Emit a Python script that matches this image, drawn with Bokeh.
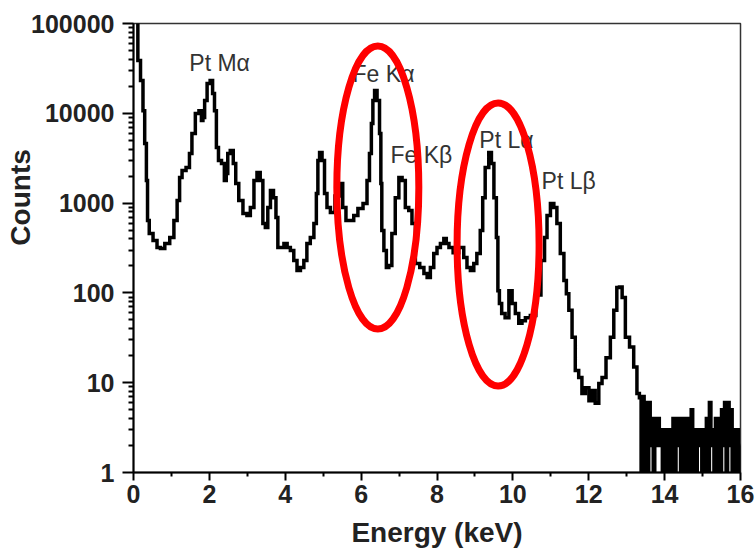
from bokeh.plotting import figure
from bokeh.models import FixedTicker, NumeralTickFormatter, Range1d
from bokeh.core.properties import value
from bokeh.embed import file_html
from bokeh.resources import INLINE

# ---- spectrum (energy keV, counts) ----
energy = [0.09, 0.14, 0.23, 0.27, 0.32, 0.36, 0.38, 0.45, 0.58, 0.66, 0.76, 0.89,
          1.02, 1.11, 1.19, 1.24, 1.32, 1.45, 1.50, 1.58, 1.68, 1.77, 1.81, 1.85,
          1.90, 1.98, 2.06, 2.11, 2.16, 2.21, 2.27, 2.37, 2.42, 2.47, 2.50, 2.60,
          2.66, 2.73, 2.82, 2.95, 3.03, 3.13, 3.22, 3.29, 3.39, 3.43, 3.52, 3.56,
          3.66, 3.72, 3.79, 3.82, 3.92, 4.01, 4.09, 4.18, 4.27, 4.35, 4.45, 4.53,
          4.61, 4.71, 4.80, 4.84, 4.88, 4.93, 5.01, 5.06, 5.14, 5.24, 5.38, 5.50,
          5.53, 5.67, 5.76, 5.85, 5.98, 6.12, 6.19, 6.25, 6.29, 6.33, 6.38, 6.46,
          6.51, 6.53, 6.56, 6.64, 6.69, 6.77, 6.85, 6.95, 7.04, 7.12, 7.21, 7.30,
          7.38, 7.48, 7.61, 7.70, 7.78, 7.87, 7.96, 8.04, 8.14, 8.22, 8.27, 8.36,
          8.49, 8.66, 8.75, 8.83, 8.93, 9.01, 9.09, 9.19, 9.22, 9.32, 9.41, 9.46,
          9.54, 9.59, 9.62, 9.67, 9.74, 9.85, 9.94, 10.02, 10.11, 10.20, 10.28,
          10.38, 10.54, 10.67, 10.81, 10.86, 10.94, 11.04, 11.12, 11.20, 11.30,
          11.39, 11.43, 11.52, 11.60, 11.69, 11.78, 11.86, 11.96, 12.05, 12.12,
          12.22, 12.31, 12.39, 12.52, 12.62, 12.70, 12.78, 12.84, 12.92, 13.01,
          13.14, 13.23, 13.31, 13.36]
counts = [150000, 38700, 23200, 10700, 4610, 1790, 640, 458, 383, 320, 312, 355,
          414, 640, 1070, 1930, 2300, 2490, 3570, 5960, 9950, 10700, 8310, 8980,
          13900, 21500, 23200, 16600, 10700, 4160, 2980, 2760, 1790, 2140, 3570, 3850,
          2760, 1650, 1070, 766, 728, 893, 1790, 2190, 1790, 593, 535, 893,
          1380, 1150, 692, 320, 320, 355, 320, 297, 229, 178, 192, 229,
          355, 414, 593, 1280, 2980, 3660, 2980, 1280, 893, 785, 1200, 1650,
          893, 640, 640, 728, 871, 990, 1790, 3570, 7700, 13900, 17900, 13900,
          5960, 1650, 495, 297, 192, 202, 458, 1150, 1930, 1790, 893, 828,
          593, 212, 192, 164, 148, 192, 275, 320, 355, 403, 355, 320,
          280, 320, 248, 192, 178, 212, 275, 495, 1150, 2490, 3660, 2760,
          1150, 414, 106, 76, 59, 53, 106, 76, 59, 46, 49,
          53, 56, 95, 229, 414, 728, 990, 893, 593, 275,
          137, 98, 64, 32, 13.7, 11.4, 7.6, 8.8, 6.3, 8.2,
          5.9, 9.8, 11.4, 19, 32, 64, 115, 116, 89, 32,
          25, 15, 7.6, 6.8]

# noisy tail above 13.4 keV
tail_energy = [13.40, 13.44, 13.48, 13.52, 13.56, 13.60, 13.64, 13.68, 13.72, 13.76,
               13.80, 13.84, 13.88, 13.92, 13.96, 14.00, 14.04, 14.08, 14.12, 14.16,
               14.20, 14.24, 14.28, 14.32, 14.36, 14.40, 14.44, 14.48, 14.52, 14.56,
               14.60, 14.64, 14.68, 14.72, 14.76, 14.80, 14.84, 14.88, 14.92, 14.96,
               15.00, 15.04, 15.08, 15.12, 15.16, 15.20, 15.24, 15.28, 15.32, 15.36,
               15.40, 15.44, 15.48, 15.52, 15.56, 15.60, 15.64, 15.68, 15.72, 15.76,
               15.80, 15.84, 15.88, 15.92, 15.96, 16.00]
tail_counts = [1, 7, 1, 6, 1, 6, 2, 4, 1, 4,
               2, 4, 2, 3, 1, 3, 1, 3, 1, 3,
               1, 4, 1, 4, 2, 4, 1, 4, 1, 4,
               1, 4, 1, 5, 1, 3, 1, 3, 2, 3,
               1, 3, 1, 4, 1, 6, 2, 3, 1, 4,
               1, 4, 1, 5, 2, 6, 1, 6, 2, 5,
               1, 3, 1, 3, 1, 2]

# peak labels
peak_names = ["Pt M\u03b1", "Fe K\u03b1", "Fe K\u03b2", "Pt L\u03b1", "Pt L\u03b2"]
peak_x = [2.27, 6.59, 7.59, 9.83, 11.47]
peak_y = [35900, 27400, 3390, 5100, 1740]

# highlighted regions (centre energy, centre counts)
ring_x = [6.44, 9.61]
ring_y = [1490, 346]

x_ticks = [0, 2, 4, 6, 8, 10, 12, 14, 16]
y_ticks = [1, 10, 100, 1000, 10000, 100000]

FONT = "Liberation Sans"

p = figure(width=755, height=550, y_axis_type="log",
           x_range=Range1d(0, 16), y_range=Range1d(1, 100000),
           output_backend="svg", toolbar_location=None,
           min_border_left=133, min_border_right=15,
           min_border_top=23, min_border_bottom=78)
p.xgrid.visible = False
p.ygrid.visible = False
p.outline_line_color = "#333333"
p.outline_line_width = 1.5
p.background_fill_color = "white"
p.border_fill_color = "white"

p.step(energy + tail_energy, counts + tail_counts, mode="center",
       line_color="black", line_width=3.5, line_join="miter")

p.text(x=peak_x, y=peak_y, text=peak_names, text_font=value(FONT),
       text_font_size="23px", text_color="#333333",
       text_align="center", text_baseline="middle")

p.ellipse(x=ring_x, y=ring_y, width=82, height=283,
          width_units="screen", height_units="screen",
          fill_color=None, line_color="#ff0000", line_width=7)

xa = p.xaxis[0]
xa.ticker = FixedTicker(ticks=x_ticks, minor_ticks=[1, 3, 5, 7, 9, 11, 13, 15])
xa.axis_label = "Energy (keV)"
ya = p.yaxis[0]
minor = [m * 10 ** k for k in range(0, 5) for m in range(2, 10)]
ya.ticker = FixedTicker(ticks=y_ticks, minor_ticks=minor)
ya.formatter = NumeralTickFormatter(format="0")
ya.axis_label = "\u00a0" * 13 + "Counts"

for ax in (xa, ya):
    ax.axis_line_color = "black"
    ax.axis_line_width = 2
    ax.major_tick_line_color = "black"
    ax.major_tick_line_width = 2
    ax.minor_tick_line_color = "black"
    ax.minor_tick_line_width = 2
    ax.major_tick_in = 0
    ax.minor_tick_in = 0
    ax.major_label_text_font = FONT
    ax.major_label_text_font_size = "25px"
    ax.major_label_text_font_style = "bold"
    ax.major_label_text_color = "#222222"
    ax.axis_label_text_font = FONT
    ax.axis_label_text_font_style = "bold"
    ax.axis_label_text_color = "#222222"
    ax.axis_label_text_font_size = "28px"

xa.major_tick_out = 8
xa.minor_tick_out = 4
xa.major_label_standoff = 4
xa.axis_label_standoff = 11

ya.major_tick_out = 11
ya.minor_tick_out = 5
ya.major_label_standoff = 8
ya.axis_label_standoff = -8

open("out.html", "w").write(file_html(p, INLINE))
